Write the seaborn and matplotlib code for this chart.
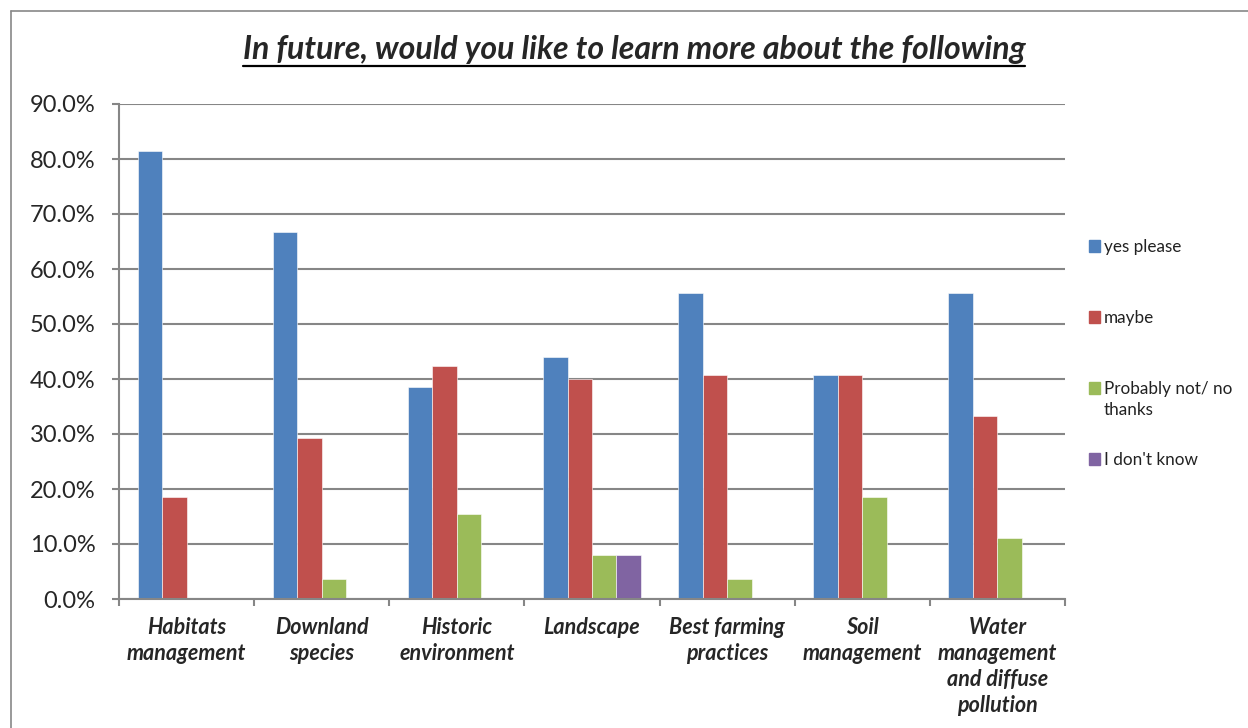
import numpy as np
import pandas as pd
import seaborn as sns
from matplotlib import pyplot as plt
from matplotlib.lines import Line2D
from matplotlib.patches import Rectangle
from matplotlib.ticker import FixedLocator, PercentFormatter

categories = [
    "Habitats\nmanagement",
    "Downland\nspecies",
    "Historic\nenvironment",
    "Landscape",
    "Best farming\npractices",
    "Soil\nmanagement",
    "Water\nmanagement\nand diffuse\npollution",
]
series = ["yes please", "maybe", "Probably not/ no\nthanks", "I don't know"]
yes_please = [81.5, 66.7, 38.5, 44.0, 55.6, 40.7, 55.6]
maybe = [18.5, 29.2, 42.3, 40.0, 40.7, 40.7, 33.3]
probably_not = [0.0, 3.7, 15.4, 8.0, 3.7, 18.5, 11.1]
dont_know = [0.0, 0.0, 0.0, 8.0, 0.0, 0.0, 0.0]
colors = ["#4F81BD", "#C0504D", "#9BBB59", "#8064A2"]

df = pd.DataFrame({
    "category": categories * 4,
    "answer": np.repeat(series, len(categories)),
    "value": yes_please + maybe + probably_not + dont_know,
})

sns.set_style("white")
plt.rcParams["font.family"] = ["Lato", "DejaVu Sans"]

fig = plt.figure(figsize=(12.48, 7.28), dpi=100)
ax = fig.add_axes([119 / 1248, 1 - 599 / 728, (1065 - 119) / 1248, (599 - 104) / 728])

sns.barplot(
    data=df, x="category", y="value", hue="answer",
    palette=colors, width=0.725, gap=0, saturation=1,
    edgecolor="white", linewidth=0.4, ax=ax, legend=False,
)

grid_c = "#868686"
ax.set_ylim(0, 90)
ax.set_xlim(-0.5, 6.5)
ax.set_yticks(np.arange(0, 91, 10))
ax.yaxis.set_major_formatter(PercentFormatter(decimals=1))
ax.grid(axis="y", color=grid_c, lw=1.5)
ax.set_axisbelow(True)
for s in ["top", "right"]:
    ax.spines[s].set_visible(False)
for s in ["left", "bottom"]:
    ax.spines[s].set_color(grid_c)
    ax.spines[s].set_linewidth(1.5)
ax.set_xlabel("")
ax.set_ylabel("")

# ticks between categories, labels at centres
ax.xaxis.set_major_locator(FixedLocator(np.arange(-0.5, 7, 1)))
ax.xaxis.set_minor_locator(FixedLocator(np.arange(7)))
ax.set_xticklabels([], minor=False)
ax.set_xticklabels(categories, minor=True, fontsize=15.5, fontweight="bold",
                   fontstyle="italic", linespacing=1.3, va="top")
ax.tick_params(axis="x", which="major", bottom=True, length=5, width=1.5, color=grid_c)
ax.tick_params(axis="x", which="minor", bottom=True, length=0, pad=13)
ax.tick_params(axis="y", left=True, length=5, width=1.5, color=grid_c, pad=12, labelsize=17)

# legend on the right
lx, ty = 1089, [246, 317, 388, 459]
for name, c, y in zip(series, colors, ty):
    fig.patches.append(Rectangle((lx / 1248, 1 - (y + 6) / 728), 11 / 1248, 12 / 728,
                                 transform=fig.transFigure, color=c, figure=fig))
    fig.text((lx + 15) / 1248, 1 - (y - 7) / 728, name, fontsize=12.3,
             va="top", ha="left", linespacing=1.4, color="#222222")

title = fig.text(634 / 1248, 1 - 50 / 728, "In future, would you like to learn more about the following",
                 fontsize=23, fontweight="bold", fontstyle="italic", ha="center", va="center")
fig.canvas.draw()
bb = title.get_window_extent().transformed(fig.transFigure.inverted())
fig.add_artist(Line2D([bb.x0, bb.x1], [1 - 66 / 728] * 2, color="black", lw=1.6))

# outer chart frame (cropped on right and bottom)
fc = "#888888"
fig.add_artist(Line2D([11 / 1248, 11 / 1248], [0, 1 - 11 / 728], color=fc, lw=1.2))
fig.add_artist(Line2D([11 / 1248, 1], [1 - 11 / 728] * 2, color=fc, lw=1.2))

fig.savefig("out.png", dpi=100)
